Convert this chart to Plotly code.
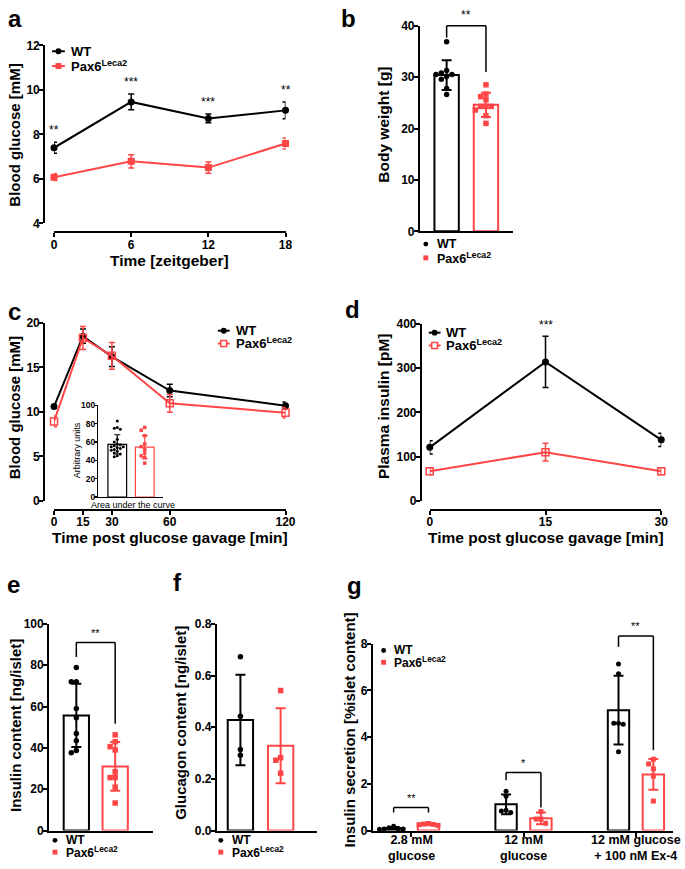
import plotly.graph_objects as go

W, H = 685, 869
FONT = "Liberation Sans"
BLACK = "#000000"
RED = "#FF4545"
SUP = "Pax6<sup>Leca2</sup>"

# ---------------- data ----------------
# a: blood glucose over the day
a_time = [0, 6, 12, 18]
a_wt = [7.4, 9.46, 8.72, 9.08]
a_wt_err = [0.25, 0.35, 0.2, 0.38]
a_pax = [6.08, 6.79, 6.51, 7.59]
a_pax_err = [0.15, 0.3, 0.25, 0.25]
a_stars = ["**", "***", "***", "**"]
a_star_y = [7.8, 9.95, 9.05, 9.6]

# b: body weight
b_wt_pts = [36.9, 31.3, 30.5, 30.1, 30.5, 30.8, 29.6, 27.8, 26.6]
b_pax_pts = [28.5, 26.7, 26.2, 25.6, 24.3, 24.3, 24.3, 23.6, 22.5, 21.0]
b_mean = [30.4, 24.6]
b_sd = [2.9, 2.35]
b_bracket = [40, 37.7, 31.0, "**"]

# c: OGTT
c_time = [0, 15, 30, 60, 120]
c_wt = [10.6, 18.5, 16.2, 12.4, 10.7]
c_wt_err = [0.2, 0.8, 1.1, 0.7, 0.4]
c_pax = [8.93, 18.3, 16.3, 10.96, 9.9]
c_pax_err = [0.6, 1.3, 1.5, 1.0, 0.6]
c_auc_wt = [83, 76, 75, 74, 63, 60, 58, 57, 56, 55, 55, 54, 53, 52, 51, 50, 48, 47, 45, 44]
c_auc_pax = [76, 73, 67, 58, 55, 52, 48, 45, 43, 37]
c_auc_mean = [57.5, 54.5]
c_auc_sd = [10.5, 12.5]

# d: plasma insulin
d_time = [0, 15, 30]
d_wt = [121, 314, 138]
d_wt_err = [15, 58, 15]
d_pax = [67, 110, 67]
d_pax_err = [8, 20, 8]
d_star = ["", "***", ""]
d_star_y = [0, 378, 0]

# e: insulin content
e_wt_pts = [78.9, 72, 72, 59, 54.6, 47, 43.5, 38.7, 37.6]
e_pax_pts = [46.3, 43, 40.6, 39, 28.4, 25.7, 25.6, 21, 13.3]
e_mean = [55.7, 31.0]
e_sd = [15.3, 11.8]
e_bracket = [91, 84, 51.7, "**"]

# f: glucagon content
f_wt_pts = [0.673, 0.442, 0.314, 0.291]
f_pax_pts = [0.542, 0.282, 0.272, 0.222]
f_mean = [0.428, 0.328]
f_sd = [0.175, 0.145]

# g: insulin secretion
g_labels = ["2.8 mM<br>glucose", "12 mM<br>glucose", "12 mM glucose<br>+ 100 nM Ex-4"]
g_wt_mean = [0.1, 1.12, 5.15]
g_wt_sd = [0.05, 0.42, 1.47]
g_pax_mean = [0.26, 0.52, 2.4]
g_pax_sd = [0.03, 0.25, 0.66]
g_wt_pts = [[0.18, 0.12, 0.09, 0.07, 0.06, 0.05],
            [1.68, 1.47, 0.87, 0.84, 0.77],
            [7.13, 6.71, 4.59, 4.55, 4.59, 3.37]]
g_pax_pts = [[0.3, 0.28, 0.26, 0.25, 0.22],
             [0.81, 0.49, 0.49, 0.31],
             [3.05, 2.85, 2.64, 2.33, 1.26]]
g_brackets = [[0.98, 0.77, 0.77, "**"], [2.48, 2.15, 0.98, "*"], [8.32, 7.86, 3.44, "**"]]

# ---------------- helpers ----------------
def px(x):
    return x / W

def py(y):
    return 1 - y / H

def xid(n):
    return "x" if n == 1 else f"x{n}"

def yid(n):
    return "y" if n == 1 else f"y{n}"

def common(size=12, lw=2, tl=4):
    return dict(showgrid=False, zeroline=False, showline=True, linecolor=BLACK,
                linewidth=lw, ticks="outside", ticklen=tl, tickwidth=lw, tickcolor=BLACK,
                ticklabelstandoff=-3,
                tickfont=dict(family=FONT, size=size, color=BLACK, weight="bold"))

layout = {}
geom = {}

def axes(n, xd, yd, xr, yr, xpos=None, ypos=None, xo=None, yo=None, size=12, lw=2, tl=4):
    geom[n] = (xd, yd, xr, yr)
    xa = common(size, lw, tl)
    ya = common(size, lw, tl)
    xa.update(domain=[px(xd[0]), px(xd[1])], range=xr)
    ya.update(domain=[py(yd[1]), py(yd[0])], range=yr)
    if xpos is not None:
        xa.update(anchor="free", position=py(xpos))
    else:
        xa.update(anchor=yid(n))
    if ypos is not None:
        ya.update(anchor="free", position=px(ypos))
    else:
        ya.update(anchor=xid(n))
    if xo:
        xa.update(xo)
    if yo:
        ya.update(yo)
    layout["xaxis" if n == 1 else f"xaxis{n}"] = xa
    layout["yaxis" if n == 1 else f"yaxis{n}"] = ya

def to_px(n, xv, yv):
    xd, yd, xr, yr = geom[n]
    X = xd[0] + (xv - xr[0]) / (xr[1] - xr[0]) * (xd[1] - xd[0])
    Y = yd[1] - (yv - yr[0]) / (yr[1] - yr[0]) * (yd[1] - yd[0])
    return X, Y

def swarm(vals, center, dx, thr):
    placed = []
    xs = [0.0] * len(vals)
    order = sorted(range(len(vals)), key=lambda i: -vals[i])
    for i in order:
        off = 0.0
        for k in [0, -1, 1, -2, 2, -3, 3, -4, 4]:
            off = k * dx
            if all(abs(vals[i] - v) >= thr or abs(off - o) > dx * 0.5 for v, o in placed):
                break
        placed.append((vals[i], off))
        xs[i] = center + off
    return xs

fig = go.Figure()
shapes = []
annots = []

def text(x, y, s, size=13, bold=True, xanchor="left", yanchor="middle", angle=0, xref="paper", yref="paper"):
    annots.append(dict(x=x, y=y, xref=xref, yref=yref, text=s, showarrow=False,
                       xanchor=xanchor, yanchor=yanchor, textangle=angle,
                       font=dict(family=FONT, size=size, color=BLACK,
                                 weight="bold" if bold else "normal")))

def ptext(xp, yp, s, **kw):
    text(px(xp), py(yp), s, **kw)

def marker_shape(cx, cy, r, color, kind):
    d = dict(xref="paper", yref="paper", x0=px(cx - r), x1=px(cx + r),
             y0=py(cy + r), y1=py(cy - r))
    if kind == "circle":
        d.update(type="circle", fillcolor=color, line=dict(color=color, width=0))
    elif kind == "square":
        d.update(type="rect", fillcolor=color, line=dict(color=color, width=0))
    else:
        d.update(type="rect", fillcolor="white", line=dict(color=color, width=1.5))
    shapes.append(d)

def pline(x0, y0, x1, y1, color=BLACK, width=1.5):
    shapes.append(dict(type="line", xref="paper", yref="paper", x0=px(x0), x1=px(x1),
                       y0=py(y0), y1=py(y1), line=dict(color=color, width=width)))

def legend_line(xl, xr, y, color, kind, label):
    pline(xl, y, xr, y, color, 2)
    marker_shape((xl + xr) / 2, y, 3, color, kind)
    ptext(xr + 4, y, label, size=13)

def legend_dot(x, y, color, kind, label, size=12):
    marker_shape(x, y, 2.5, color, kind)
    ptext(x + 9, y, label, size=size)

def bracket(n, x0, x1, spec, fs=11):
    lvl, l0, l1, s = spec
    A = to_px(n, x0, lvl)
    B = to_px(n, x1, lvl)
    A0 = to_px(n, x0, l0)
    B1 = to_px(n, x1, l1)
    pline(A[0], A[1], B[0], B[1])
    pline(A0[0], A0[1], A[0], A[1])
    pline(B1[0], B1[1], B[0], B[1])
    ptext((A[0] + B[0]) / 2, A[1] - 2, s, size=fs, bold=False, xanchor="center", yanchor="bottom")

def line_trace(n, x, y, err, color, symbol, size):
    fig.add_trace(go.Scatter(x=x, y=y, mode="lines+markers", xaxis=xid(n), yaxis=yid(n),
                             line=dict(color=color, width=2),
                             marker=dict(color=color, symbol=symbol, size=size,
                                         line=dict(color=color, width=1.5)),
                             error_y=dict(type="data", array=err, color=color, thickness=1.5, width=3),
                             cliponaxis=False))

def bars(n, xs, means, sds, color, width, lw=2, ew=5, eth=2):
    fig.add_trace(go.Bar(x=xs, y=means, width=width, xaxis=xid(n), yaxis=yid(n),
                         marker=dict(color="rgba(255,255,255,0)", line=dict(color=color, width=lw)),
                         error_y=dict(type="data", array=sds, color=color, thickness=eth, width=ew)))

def points(n, vals, center, dx, thr, color, symbol, size):
    xs = swarm(vals, center, dx, thr)
    fig.add_trace(go.Scatter(x=xs, y=vals, mode="markers", xaxis=xid(n), yaxis=yid(n),
                             marker=dict(color=color, symbol=symbol, size=size, line=dict(width=0)),
                             cliponaxis=False))

# ---------------- panel a ----------------
axes(1, (52, 288), (39, 220), [0, 18], [4, 12], xpos=229, ypos=42,
     xo=dict(tickvals=a_time), yo=dict(tickvals=[4, 6, 8, 10, 12]))
line_trace(1, a_time, a_wt, a_wt_err, BLACK, "circle", 5.5)
line_trace(1, a_time, a_pax, a_pax_err, RED, "square", 5.5)
for t, s, yv in zip(a_time, a_stars, a_star_y):
    X, Y = to_px(1, t, yv)
    ptext(X, Y, s, size=12, bold=False, xanchor="center", yanchor="bottom")
legend_line(50, 63, 45, BLACK, "circle", "WT")
legend_line(50, 63, 60, RED, "square", SUP)
ptext(12, 130, "Blood glucose [mM]", size=15, xanchor="center", angle=-90)
ptext(170, 258, "Time [zeitgeber]", size=15.5, xanchor="center")
ptext(3, 12, "a", size=24)

# ---------------- panel b ----------------
axes(2, (425, 520), (19, 228), [-0.679, 1.691], [0, 40],
     xo=dict(showticklabels=False, ticks=""), yo=dict(tickvals=[0, 10, 20, 30, 40]))
bars(2, [0], [b_mean[0]], [b_sd[0]], BLACK, 0.62)
bars(2, [1], [b_mean[1]], [b_sd[1]], RED, 0.62)
points(2, b_wt_pts, 0, 0.135, 0.95, BLACK, "circle", 5.5)
points(2, b_pax_pts, 1, 0.135, 0.95, RED, "square", 5.5)
bracket(2, 0, 1, b_bracket, fs=12)
legend_dot(431, 241, BLACK, "circle", "WT", size=12.5)
legend_dot(431, 255, RED, "square", SUP, size=12.5)
ptext(387, 120, "Body weight [g]", size=15.5, xanchor="center", angle=-90)
ptext(342, 12, "b", size=24)

# ---------------- panel c ----------------
axes(3, (52, 288), (321, 502), [0, 120], [0, 20], xpos=511, ypos=42,
     xo=dict(tickvals=c_time), yo=dict(tickvals=[0, 5, 10, 15, 20]))
line_trace(3, c_time, c_wt, c_wt_err, BLACK, "circle", 5.5)
line_trace(3, c_time, c_pax, c_pax_err, RED, "square-open", 7)
legend_line(219, 231, 329, BLACK, "circle", "WT")
legend_line(219, 231, 342, RED, "open", SUP)
ptext(12, 407, "Blood glucose [mM]", size=15, xanchor="center", angle=-90)
ptext(170, 539, "Time post glucose gavage [min]", size=15.5, xanchor="center")
ptext(3, 309, "c", size=24)

# inset
axes(4, (97, 163), (405, 498), [-0.696, 1.661], [0, 100],
     xo=dict(showticklabels=False, ticks=""), yo=dict(tickvals=[0, 20, 40, 60, 80, 100]),
     size=8.5, lw=1.2, tl=3)
bars(4, [0], [c_auc_mean[0]], [c_auc_sd[0]], BLACK, 0.68, lw=1.2, ew=3, eth=1.2)
bars(4, [1], [c_auc_mean[1]], [c_auc_sd[1]], RED, 0.68, lw=1.2, ew=3, eth=1.2)
points(4, c_auc_wt, 0, 0.11, 3.5, BLACK, "circle", 3)
points(4, c_auc_pax, 1, 0.13, 4.0, RED, "square", 3.5)
ptext(75, 451, "Arbitrary units", size=9, bold=False, xanchor="center", angle=-90)
ptext(133, 506, "Area under the curve", size=9, bold=False, xanchor="center")

# ---------------- panel d ----------------
axes(5, (435, 671), (322, 502), [0, 30], [0, 400], xpos=511, ypos=426,
     xo=dict(tickvals=d_time), yo=dict(tickvals=[0, 100, 200, 300, 400]))
line_trace(5, d_time, d_wt, d_wt_err, BLACK, "circle", 5.5)
line_trace(5, d_time, d_pax, d_pax_err, RED, "square-open", 7)
for t, s, yv in zip(d_time, d_star, d_star_y):
    if s:
        X, Y = to_px(5, t, yv)
        ptext(X, Y, s, size=12, bold=False, xanchor="center", yanchor="bottom")
legend_line(434, 446, 331, BLACK, "circle", "WT")
legend_line(434, 446, 344, RED, "open", SUP)
ptext(388, 406, "Plasma insulin [pM]", size=15.5, xanchor="center", angle=-90)
ptext(553, 539, "Time post glucose gavage [min]", size=15.5, xanchor="center")
ptext(347, 307, "d", size=24)

# ---------------- panel e ----------------
axes(6, (47, 153), (627, 837), [-0.7, 1.975], [0, 100],
     xo=dict(showticklabels=False, ticks=""), yo=dict(tickvals=[0, 20, 40, 60, 80, 100]))
bars(6, [0], [e_mean[0]], [e_sd[0]], BLACK, 0.65)
bars(6, [1], [e_mean[1]], [e_sd[1]], RED, 0.65)
points(6, e_wt_pts, 0, 0.13, 2.4, BLACK, "circle", 5.5)
points(6, e_pax_pts, 1, 0.13, 2.4, RED, "square", 5.5)
bracket(6, 0, 1, e_bracket, fs=11)
legend_dot(53, 847, BLACK, "circle", "WT")
legend_dot(53, 859, RED, "square", SUP)
ptext(12, 730, "Insulin content [ng/islet]", size=15, xanchor="center", angle=-90)
ptext(2, 587, "e", size=24)

# ---------------- panel f ----------------
axes(7, (218, 320), (627, 837), [-0.585, 1.902], [0, 0.8],
     xo=dict(showticklabels=False, ticks=""),
     yo=dict(tickvals=[0, 0.2, 0.4, 0.6, 0.8], tickformat=".1f"))
bars(7, [0], [f_mean[0]], [f_sd[0]], BLACK, 0.63)
bars(7, [1], [f_mean[1]], [f_sd[1]], RED, 0.63)
points(7, f_wt_pts, 0, 0.12, 0.019, BLACK, "circle", 5.5)
points(7, f_pax_pts, 1, 0.12, 0.019, RED, "square", 5.5)
legend_dot(222, 847, BLACK, "circle", "WT")
legend_dot(222, 859, RED, "square", SUP)
ptext(181, 728, "Glucagon content [ng/islet]", size=15, xanchor="center", angle=-90)
ptext(171, 585, "f", size=24)

# ---------------- panel g ----------------
gx = list(range(len(g_labels)))
axes(8, (377, 683), (647, 837), [-0.34, 2.33], [0, 8],
     xo=dict(tickvals=gx, showticklabels=False),
     yo=dict(tickvals=[0, 2, 4, 6, 8]))
off = 0.155
bars(8, [i - off for i in gx], g_wt_mean, g_wt_sd, BLACK, 0.19)
bars(8, [i + off for i in gx], g_pax_mean, g_pax_sd, RED, 0.19)
for i in gx:
    points(8, g_wt_pts[i], i - off, 0.042, 0.2, BLACK, "circle", 5)
    points(8, g_pax_pts[i], i + off, 0.042, 0.2, RED, "square", 5)
    bracket(8, i - off, i + off, g_brackets[i], fs=11)
    X, _ = to_px(8, i, 0)
    ptext(X, 855, g_labels[i], size=12.5, xanchor="center")
legend_dot(388, 654, BLACK, "circle", "WT")
legend_dot(388, 666, RED, "square", SUP)
ptext(353, 735, "Insulin secretion [%islet content]", size=15, xanchor="center", angle=-90)
ptext(349, 588, "g", size=24)

fig.update_layout(
    width=W, height=H, margin=dict(l=0, r=0, t=0, b=0),
    paper_bgcolor="white", plot_bgcolor="white", showlegend=False, hovermode=False,
    barmode="overlay", bargap=0, font=dict(family=FONT, color=BLACK),
    shapes=shapes, annotations=annots, **layout)

fig.write_html("out.html", config={"displayModeBar": False, "staticPlot": True},
               post_script="document.body.style.margin='0';document.body.style.overflow='hidden';")
